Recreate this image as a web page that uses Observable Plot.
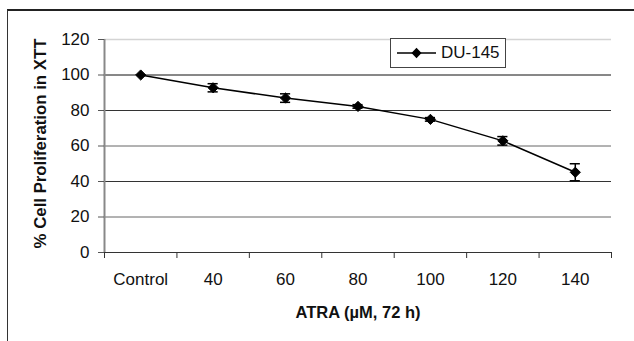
<!DOCTYPE html>
<html>
<head>
<meta charset="utf-8">
<script src="https://cdn.jsdelivr.net/npm/d3@7"></script>
<script src="https://cdn.jsdelivr.net/npm/@observablehq/plot@0.6"></script>
<style>
  html, body { margin: 0; padding: 0; background: #fff; }
  #wrap { position: relative; width: 634px; height: 341px; overflow: hidden; font-family: "Liberation Sans", Arial, sans-serif; background: #fff; }
  #chart { position: absolute; left: 7px; top: 9px; border-top: 2px solid #222; border-left: 1px solid #333; width: 640px; height: 340px; }
  #chart svg { display: block; }
  #legend { position: absolute; left: 390px; top: 38px; width: 116px; height: 30px; border: 1px solid #444; background: #fff; display: flex; align-items: center; font-size: 17px; color: #111; white-space: nowrap; box-sizing: border-box; }
  #legend svg { margin-left: 6px; margin-right: 5px; flex: none; }
</style>
</head>
<body>
<div id="wrap">
  <div id="chart"></div>
  <div id="legend"><svg width="39" height="12"><line x1="0" y1="6" x2="39" y2="6" stroke="#000" stroke-width="1.5"/><path d="M19.5,0.8 L24.5,6 L19.5,11.2 L14.5,6 Z" fill="#000"/></svg><span id="legendText"></span></div>
</div>
<script>
const categories = ["Control", "40", "60", "80", "100", "120", "140"];
const values = [100, 92.8, 87.0, 82.3, 75.0, 62.9, 45.2];
const errors = [0, 2.3, 2.4, 1.0, 1.0, 2.4, 4.8];
const yTicks = [0, 20, 40, 60, 80, 100, 120];
const seriesName = "DU-145";
const xTitle = "ATRA (µM, 72 h)";
const yTitle = "% Cell Proliferation in XTT";

document.getElementById("legendText").textContent = seriesName;

const data = categories.map((c, i) => ({cat: c, i: i + 0.5, v: values[i], e: errors[i]}));
const boundaries = d3.range(categories.length + 1);
const mids = categories.map((c, i) => i + 0.5);
const capHalf = 0.07;
const withErr = data.filter(d => d.e > 0);

const font = "'Liberation Sans', Arial, sans-serif";

const plot = Plot.plot({
  width: 626,
  height: 330,
  marginLeft: 96,
  marginRight: 23,
  marginTop: 28,
  marginBottom: 89,
  style: {fontFamily: font, fontSize: "17px", color: "#111", background: "transparent", overflow: "visible"},
  x: {type: "linear", domain: [0, categories.length]},
  y: {domain: [0, 120]},
  marks: [
    Plot.ruleY([120], {stroke: "#d4d4d4", strokeWidth: 1.5}),
    Plot.ruleY([100], {stroke: "#111", strokeWidth: 1}),
    Plot.ruleY([80, 40], {stroke: "#333", strokeWidth: 1}),
    Plot.ruleY([60, 20], {stroke: "#666", strokeWidth: 1}),
    Plot.ruleX([0], {stroke: "#888", strokeWidth: 2}),
    Plot.ruleY([0], {stroke: "#333", strokeWidth: 1.2}),
    Plot.axisY({ticks: yTicks, tickSize: 6, tickPadding: 9, label: null, stroke: "#555", fontSize: 17}),
    Plot.axisX({ticks: boundaries, tickSize: 6, tickFormat: () => "", label: null, stroke: "#333"}),
    Plot.axisX({ticks: mids, tickSize: 0, tickPadding: 20, tickFormat: d => categories[Math.round(d - 0.5)], label: null, fontSize: 17}),
    Plot.line(data, {x: "i", y: "v", stroke: "#000", strokeWidth: 1.5}),
    Plot.ruleX(withErr, {x: "i", y1: d => d.v - d.e, y2: d => d.v + d.e, stroke: "#000", strokeWidth: 1.5}),
    Plot.ruleY(withErr, {y: d => d.v + d.e, x1: d => d.i - capHalf, x2: d => d.i + capHalf, stroke: "#000", strokeWidth: 1.5}),
    Plot.ruleY(withErr, {y: d => d.v - d.e, x1: d => d.i - capHalf, x2: d => d.i + capHalf, stroke: "#000", strokeWidth: 1.5}),
    Plot.dot(data, {x: "i", y: "v", symbol: "diamond2", r: 4.6, fill: "#000", stroke: "#000", strokeWidth: 1}),
    Plot.text([xTitle], {frameAnchor: "bottom", lineAnchor: "middle", dy: 60, fontWeight: "bold", fontSize: 16.5, fill: "#111"}),
    Plot.text([yTitle], {frameAnchor: "left", textAnchor: "middle", dx: -64, dy: -2.5, rotate: -90, fontWeight: "bold", fontSize: 16.8, fill: "#111"})
  ]
});
document.getElementById("chart").appendChild(plot);
</script>
</body>
</html>
